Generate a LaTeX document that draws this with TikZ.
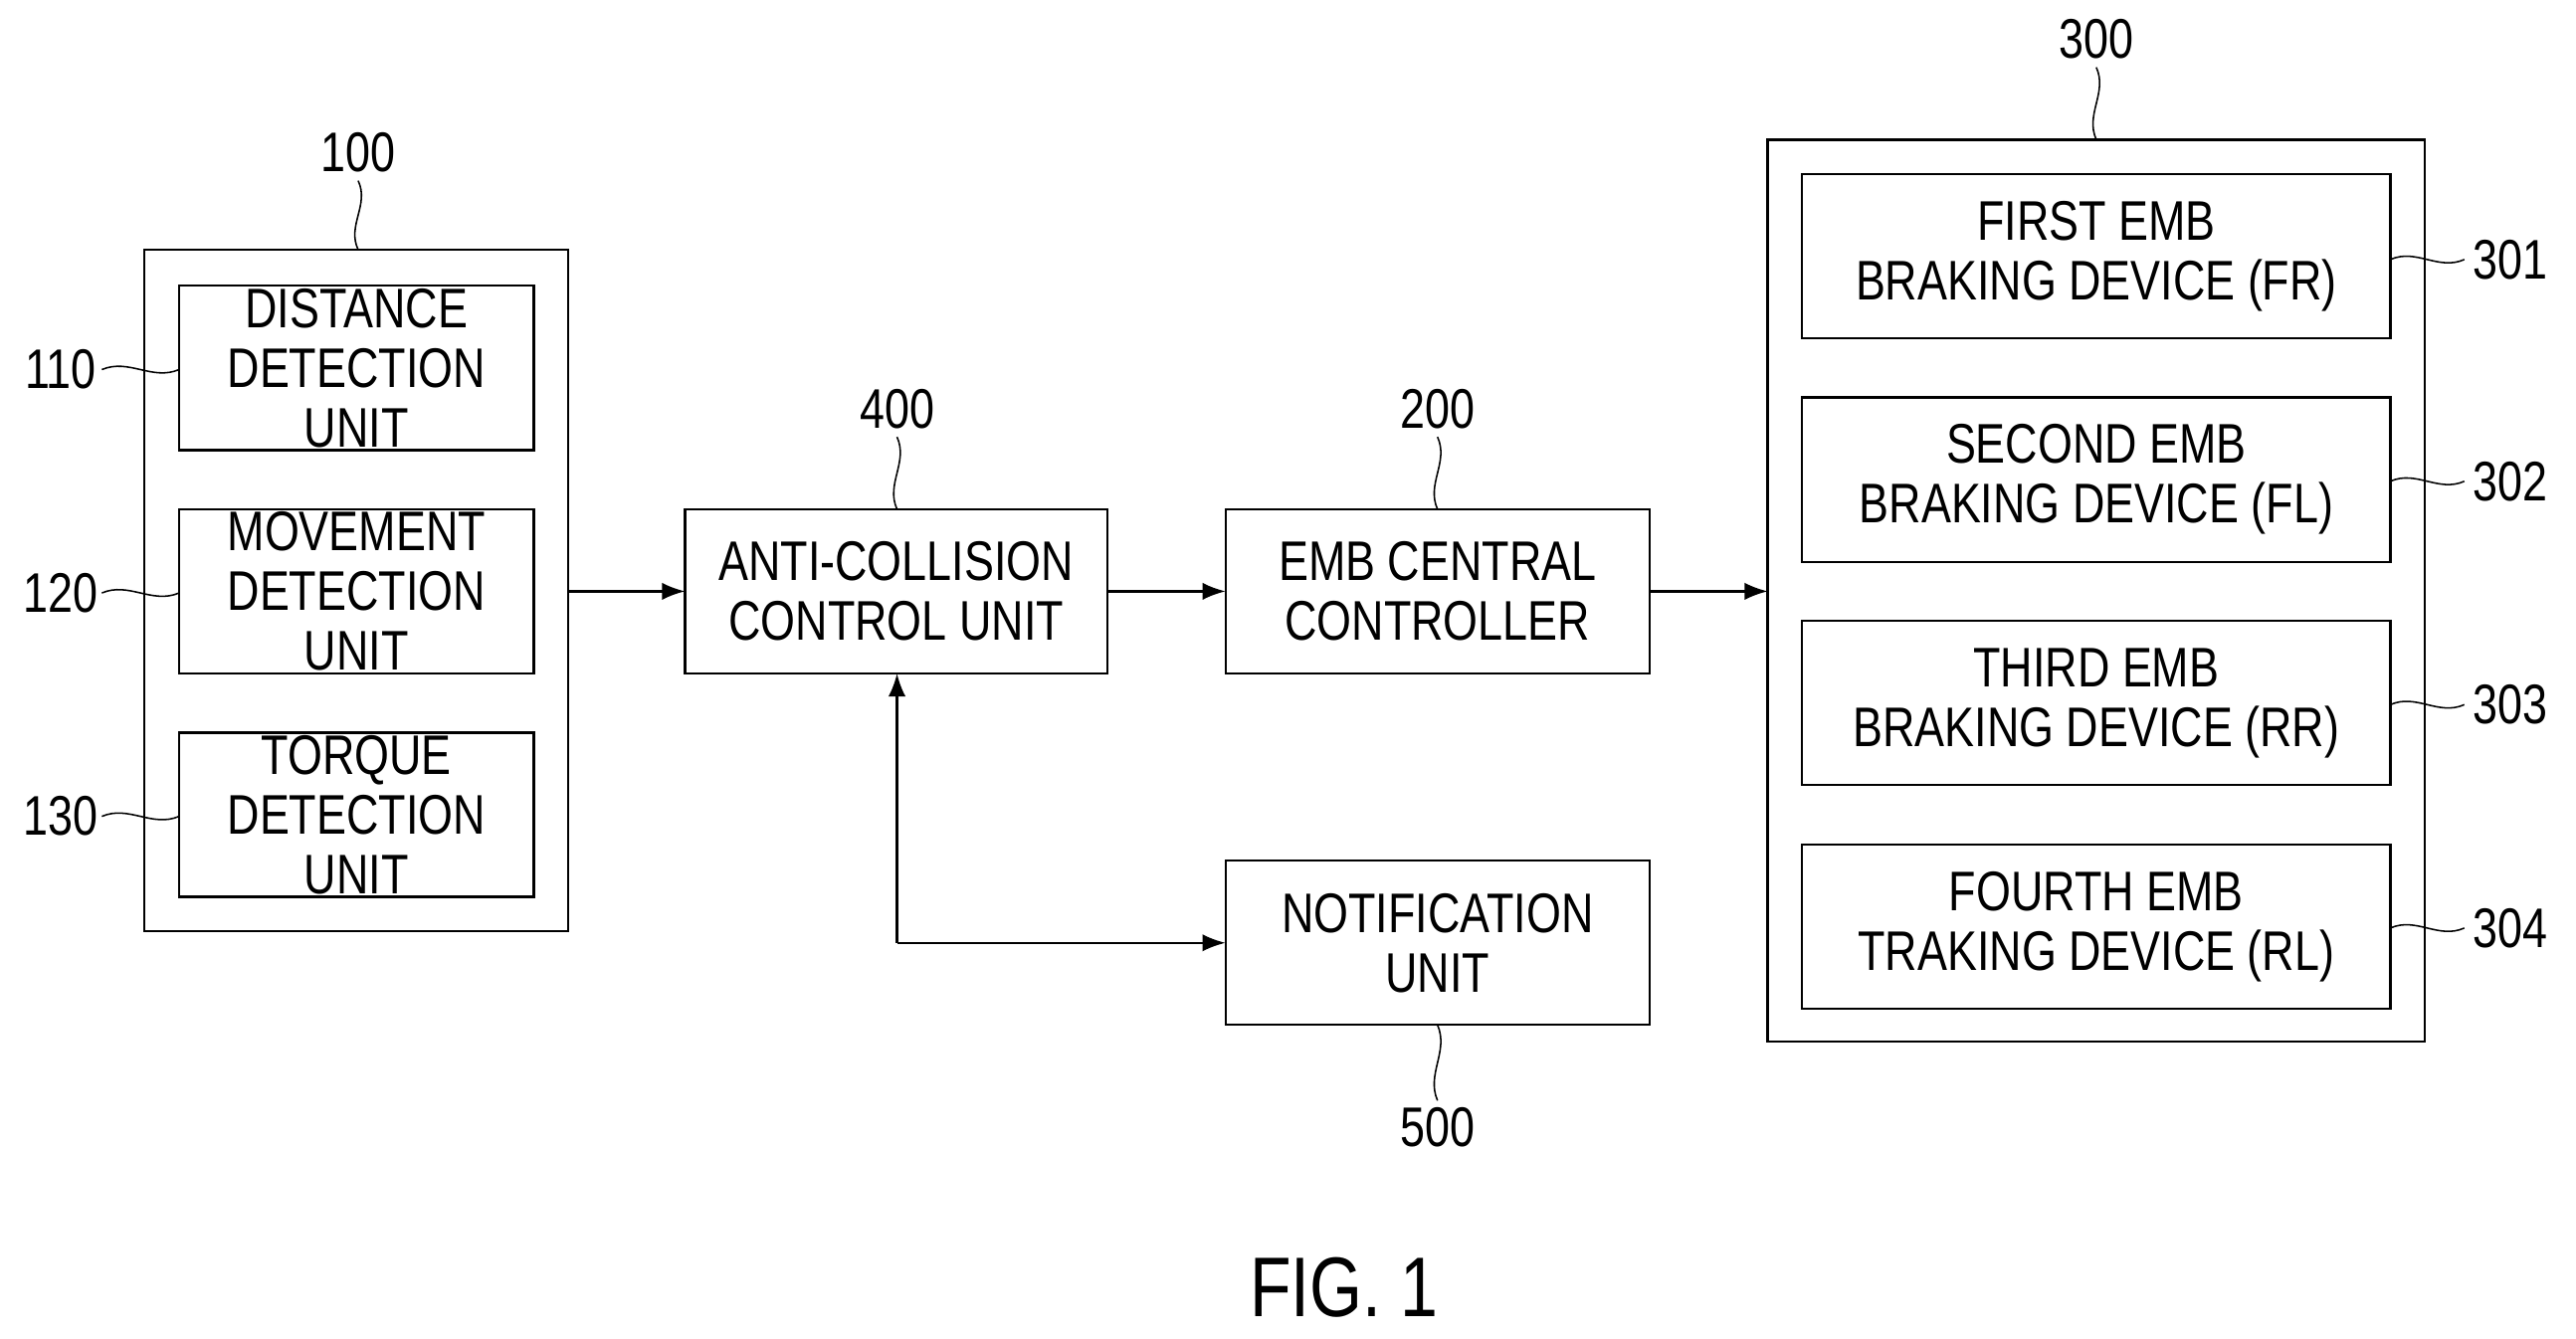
\documentclass[tikz,border=0pt]{standalone}
\usepackage{fontspec}
\setmainfont[FakeStretch=0.8]{Liberation Sans}
\begin{document}
\begin{tikzpicture}[x=0.03cm,y=-0.03cm,
  box/.style={draw,line width=1.2pt,inner sep=0pt},
  lbl/.style={font=\fontsize{29}{31}\selectfont,align=center,inner sep=0pt},
  num/.style={font=\fontsize{29}{31}\selectfont,inner sep=1pt},
  arr/.style={line width=1.2pt,-{Latex[length=12pt,width=9pt]}},
  sq/.style={line width=0.8pt}]
\useasboundingbox (0,0) rectangle (1568,815);
\newcommand{\bx}[4]{\draw[box] (#2) rectangle (#3); \node[lbl] (#1) at ($(#2)!0.5!(#3)$) {#4};}
\usetikzlibrary{calc,arrows.meta}
% 100 group
\draw[box] (88,152) coordinate(o1a) rectangle (346,567) coordinate(o1b);
\node (g100) at (217,359) {};
\coordinate (n110a) at (109,174); \coordinate (n110b) at (325,274);
\coordinate (n120a) at (109,310); \coordinate (n120b) at (325,410);
\coordinate (n130a) at (109,446); \coordinate (n130b) at (325,546);
\draw[box] (n110a) rectangle (n110b); \node[lbl] (t110) at (217,224) {DISTANCE\\DETECTION\\UNIT};
\draw[box] (n120a) rectangle (n120b); \node[lbl] (t120) at (217,360) {MOVEMENT\\DETECTION\\UNIT};
\draw[box] (n130a) rectangle (n130b); \node[lbl] (t130) at (217,496) {TORQUE\\DETECTION\\UNIT};
% middle
\draw[box] (417,310) rectangle (674,410); \node[lbl] (u400) at (545.5,360) {ANTI-COLLISION\\CONTROL UNIT};
\draw[box] (746,310) rectangle (1004,410); \node[lbl] (u200) at (875,360) {EMB CENTRAL\\CONTROLLER};
\draw[box] (746,524) rectangle (1004,624); \node[lbl] (u500) at (875,574) {NOTIFICATION\\UNIT};
% 300 group
\draw[box] (1076,85) rectangle (1476,634);
\draw[box] (1097,106) rectangle (1455,206); \node[lbl] (t301) at (1276,156) {FIRST EMB\\BRAKING DEVICE (FR)};
\draw[box] (1097,242) rectangle (1455,342); \node[lbl] (t302) at (1276,292) {SECOND EMB\\BRAKING DEVICE (FL)};
\draw[box] (1097,378) rectangle (1455,478); \node[lbl] (t303) at (1276,428) {THIRD EMB\\BRAKING DEVICE (RR)};
\draw[box] (1097,514) rectangle (1455,614); \node[lbl] (t304) at (1276,564) {FOURTH EMB\\TRAKING DEVICE (RL)};
% arrows
\coordinate (a1) at (346,360); \coordinate (a2) at (417,360);
\coordinate (a3) at (674,360); \coordinate (a4) at (746,360);
\coordinate (a5) at (1004,360); \coordinate (a6) at (1076,360);
\coordinate (c1) at (546,410); \coordinate (c2) at (546,574); \coordinate (c3) at (746,574);
\draw[arr] (a1) -- (a2);
\draw[arr] (a3) -- (a4);
\draw[arr] (a5) -- (a6);
\draw[arr] (c2) -- (c1);
\draw[arr] (c2) -- (c3);
% numbers
\node[num] (l100) at (218,93) {100};
\node[num] (l400) at (546,249) {400};
\node[num] (l200) at (875,249) {200};
\node[num] (l300) at (1276,24) {300};
\node[num] (l500) at (875,686) {500};
\node[num] (l110) at (37,225) {110};
\node[num] (l120) at (37,361) {120};
\node[num] (l130) at (37,497) {130};
\node[num] (l301) at (1528,158) {301};
\node[num] (l302) at (1528,293) {302};
\node[num] (l303) at (1528,429) {303};
\node[num] (l304) at (1528,565) {304};
% vertical squiggles
\foreach \x/\ya/\yb in {218/110/152,546/266/310,875/266/310,1276/41/85,875/624/670}{
  \draw[sq] (\x,\ya) .. controls (\x+7,{\ya+0.35*(\yb-\ya)}) and (\x-7,{\ya+0.65*(\yb-\ya)}) .. (\x,\yb);}
% horizontal squiggles
\foreach \xa/\xb/\y in {62/109/225,62/109/361,62/109/497,1455/1500/158,1455/1500/293,1455/1500/429,1455/1500/565}{
  \draw[sq] (\xa,\y) .. controls ({\xa+0.35*(\xb-\xa)},\y-7) and ({\xa+0.65*(\xb-\xa)},\y+7) .. (\xb,\y);}
\node[font=\fontsize{44}{46}\selectfont,inner sep=0pt] (fig) at (818,784) {FIG. 1};
\end{tikzpicture}
\end{document}
